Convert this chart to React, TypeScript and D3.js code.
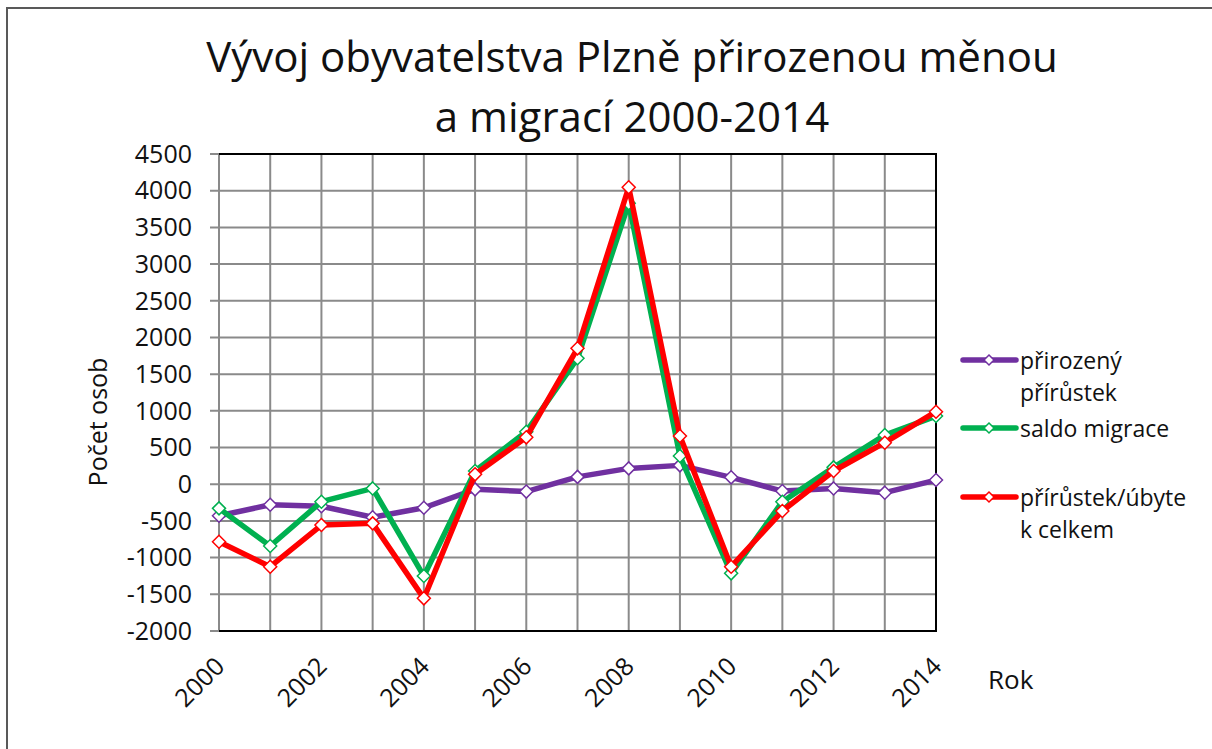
import * as d3 from "d3";
import { useRef, useEffect } from "react";

// --- data
const years = [2000, 2001, 2002, 2003, 2004, 2005, 2006, 2007, 2008, 2009, 2010, 2011, 2012, 2013, 2014];
const prirozeny = [-430, -280, -300, -450, -320, -70, -100, 100, 216, 257, 94, -93, -57, -115, 57];
const saldoMigrace = [-329, -842, -238, -57, -1251, 180, 716, 1716, 3828, 384, -1214, -238, 230, 670, 929];
const celkem = [-783, -1124, -556, -533, -1555, 135, 639, 1852, 4046, 657, -1124, -365, 180, 566, 988];
const xTickYears = [2000, 2002, 2004, 2006, 2008, 2010, 2012, 2014];
const yTicks = [-2000, -1500, -1000, -500, 0, 500, 1000, 1500, 2000, 2500, 3000, 3500, 4000, 4500];

const seriesNames = [["přirozený", "přírůstek"], ["saldo migrace"], ["přírůstek/úbyte", "k celkem"]];
const seriesColors = ["#7030A0", "#00B050", "#FF0000"];
const titleLines = ["Vývoj obyvatelstva Plzně přirozenou měnou", "a migrací 2000-2014"];

const FONT = "'Open Sans', 'Noto Sans', sans-serif";

const App = () => {
  const container = useRef<SVGSVGElement>(null);

  useEffect(() => {
    const svg = d3.select(container.current);
    svg.selectAll("*").remove();

    const W = 1212;
    const H = 749;
    const plot = { l: 219, t: 154, r: 936, b: 631 };

    // outer chart border
    svg
      .append("rect")
      .attr("x", 7)
      .attr("y", 8)
      .attr("width", W + 20)
      .attr("height", H + 20)
      .attr("fill", "white")
      .attr("stroke", "#595959")
      .attr("stroke-width", 2);

    const xScale = d3.scaleLinear().domain([2000, 2014]).range([plot.l, plot.r]);
    const yScale = d3.scaleLinear().domain([-2000, 4500]).range([plot.b, plot.t]);

    // grid
    const gridg = svg.append("g").attr("class", "grid-g");
    gridg
      .selectAll(".h-grid")
      .data(yTicks)
      .join("line")
      .attr("class", "h-grid")
      .attr("x1", plot.l - 9)
      .attr("x2", plot.r)
      .attr("y1", (d) => yScale(d))
      .attr("y2", (d) => yScale(d))
      .attr("stroke", "#8a8a8a")
      .attr("stroke-width", 2);
    gridg
      .selectAll(".v-grid")
      .data(years)
      .join("line")
      .attr("class", "v-grid")
      .attr("x1", (d) => xScale(d))
      .attr("x2", (d) => xScale(d))
      .attr("y1", plot.t)
      .attr("y2", plot.b)
      .attr("stroke", "#8a8a8a")
      .attr("stroke-width", 2);

    // black frame top / right / bottom
    svg
      .append("path")
      .attr("d", `M${plot.l},${plot.t}H${plot.r}V${plot.b}H${plot.l}`)
      .attr("fill", "none")
      .attr("stroke", "black")
      .attr("stroke-width", 2);

    // y tick labels
    svg
      .append("g")
      .selectAll("text")
      .data(yTicks)
      .join("text")
      .attr("x", 192)
      .attr("y", (d) => yScale(d))
      .attr("dy", "0.35em")
      .attr("text-anchor", "end")
      .style("font-family", FONT)
      .style("font-size", "25px")
      .attr("fill", "#111")
      .text((d) => d);

    // x tick labels
    svg
      .append("g")
      .selectAll("text")
      .data(xTickYears)
      .join("text")
      .attr("transform", (d) => `translate(${xScale(d) + 7},668)rotate(-45)`)
      .attr("text-anchor", "end")
      .style("font-family", FONT)
      .style("font-size", "25px")
      .attr("fill", "#111")
      .text((d) => d);

    // axis titles
    svg
      .append("text")
      .attr("transform", `translate(107,422)rotate(-90)`)
      .attr("text-anchor", "middle")
      .style("font-family", FONT)
      .style("font-size", "25px")
      .attr("fill", "#111")
      .text("Počet osob");
    svg
      .append("text")
      .attr("x", 988)
      .attr("y", 689)
      .style("font-family", FONT)
      .style("font-size", "26px")
      .attr("fill", "#111")
      .text("Rok");

    // chart title
    svg
      .append("g")
      .selectAll("text")
      .data(titleLines)
      .join("text")
      .attr("x", 632)
      .attr("y", (d, i) => 72 + 60 * i)
      .attr("text-anchor", "middle")
      .style("font-family", FONT)
      .style("font-size", "42px")
      .attr("fill", "#111")
      .text((d) => d);

    // lines
    const allSeries = [prirozeny, saldoMigrace, celkem];
    const lineGen = d3
      .line<number>()
      .x((d, i) => xScale(years[i]))
      .y((d) => yScale(d));
    const diamond = (cx: number, cy: number, r: number) =>
      `M${cx},${cy - r}L${cx + r},${cy}L${cx},${cy + r}L${cx - r},${cy}Z`;

    const linesg = svg.append("g").attr("class", "lines-g");
    allSeries.forEach((vals, s) => {
      const g = linesg.append("g");
      g.append("path")
        .attr("d", lineGen(vals))
        .attr("fill", "none")
        .attr("stroke", seriesColors[s])
        .attr("stroke-width", 5.5)
        .attr("stroke-linejoin", "round");
      g.selectAll(".marker")
        .data(vals)
        .join("path")
        .attr("class", "marker")
        .attr("d", (d, i) => diamond(xScale(years[i]), yScale(d), 6.5))
        .attr("fill", "white")
        .attr("stroke", seriesColors[s])
        .attr("stroke-width", 1.5);
    });

    // legend
    const legendRows = [360, 428, 497];
    const legendg = svg.append("g").attr("class", "legend-g");
    seriesNames.forEach((lines, s) => {
      const y = legendRows[s];
      legendg
        .append("line")
        .attr("x1", 963)
        .attr("x2", 1016)
        .attr("y1", y)
        .attr("y2", y)
        .attr("stroke", seriesColors[s])
        .attr("stroke-width", 5.5)
        .attr("stroke-linecap", "round");
      legendg
        .append("path")
        .attr("d", diamond(989, y, 5))
        .attr("fill", "white")
        .attr("stroke", seriesColors[s])
        .attr("stroke-width", 1.5);
      legendg
        .selectAll(`.legend-text-${s}`)
        .data(lines)
        .join("text")
        .attr("class", `legend-text-${s}`)
        .attr("x", 1020)
        .attr("y", (d, i) => y + 9 + 32 * i)
        .style("font-family", FONT)
        .style("font-size", "23px")
        .attr("fill", "#111")
        .text((d) => d);
    });
  });

  return (
    <svg
      ref={container}
      width={1212}
      height={749}
      style={{ position: "absolute", left: 0, top: 0, background: "white" }}
    ></svg>
  );
};

export default App;
